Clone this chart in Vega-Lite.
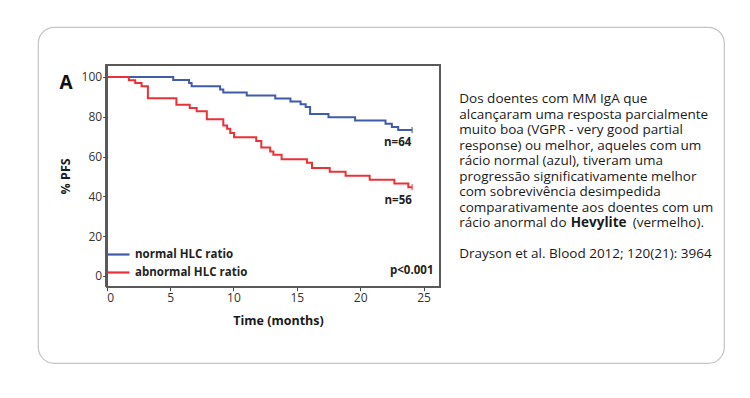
{
  "$schema": "https://vega.github.io/schema/vega-lite/v6.json",
  "width": 686,
  "height": 336,
  "autosize": "none",
  "padding": {"left": 38, "top": 27, "right": 26, "bottom": 35},
  "background": "white",
  "config": {
    "view": {"stroke": "#c4c4c4", "strokeWidth": 1.2, "cornerRadius": 16},
    "font": "Open Sans",
    "axis": {"grid": false, "domain": false, "tickColor": "#444", "tickSize": 4, "labelColor": "#333", "labelFontSize": 12, "titleColor": "#1a1a1a", "titleFontSize": 12.5, "titleFontWeight": "bold"}
  },
  "resolve": {"scale": {"y": "independent"}, "axis": {"y": "independent"}},
  "layer": [
    {
      "data": {"values": [
        {"group": "normal HLC ratio", "t": 0, "v": 100},
        {"group": "normal HLC ratio", "t": 5.25, "v": 98.5},
        {"group": "normal HLC ratio", "t": 6.5, "v": 96.9},
        {"group": "normal HLC ratio", "t": 6.7, "v": 95.3},
        {"group": "normal HLC ratio", "t": 8.95, "v": 93.7},
        {"group": "normal HLC ratio", "t": 9.2, "v": 92.2},
        {"group": "normal HLC ratio", "t": 11.05, "v": 90.7},
        {"group": "normal HLC ratio", "t": 13.3, "v": 89.2},
        {"group": "normal HLC ratio", "t": 14.5, "v": 87.7},
        {"group": "normal HLC ratio", "t": 15.3, "v": 86.3},
        {"group": "normal HLC ratio", "t": 15.7, "v": 84.9},
        {"group": "normal HLC ratio", "t": 16.05, "v": 81.4},
        {"group": "normal HLC ratio", "t": 17.5, "v": 79.8},
        {"group": "normal HLC ratio", "t": 19.6, "v": 78.1},
        {"group": "normal HLC ratio", "t": 22.0, "v": 76.5},
        {"group": "normal HLC ratio", "t": 22.5, "v": 74.9},
        {"group": "normal HLC ratio", "t": 23.0, "v": 73.4},
        {"group": "normal HLC ratio", "t": 24.1, "v": 73.4},
        {"group": "abnormal HLC ratio", "t": 0, "v": 100},
        {"group": "abnormal HLC ratio", "t": 1.75, "v": 98.4},
        {"group": "abnormal HLC ratio", "t": 2.25, "v": 96.9},
        {"group": "abnormal HLC ratio", "t": 2.75, "v": 95.3},
        {"group": "abnormal HLC ratio", "t": 3.25, "v": 89.3},
        {"group": "abnormal HLC ratio", "t": 5.5, "v": 86.0},
        {"group": "abnormal HLC ratio", "t": 6.55, "v": 84.4},
        {"group": "abnormal HLC ratio", "t": 7.1, "v": 82.7},
        {"group": "abnormal HLC ratio", "t": 7.9, "v": 78.7},
        {"group": "abnormal HLC ratio", "t": 9.2, "v": 75.6},
        {"group": "abnormal HLC ratio", "t": 9.5, "v": 74.0},
        {"group": "abnormal HLC ratio", "t": 9.75, "v": 71.8},
        {"group": "abnormal HLC ratio", "t": 10.05, "v": 69.7},
        {"group": "abnormal HLC ratio", "t": 11.8, "v": 67.8},
        {"group": "abnormal HLC ratio", "t": 12.2, "v": 64.5},
        {"group": "abnormal HLC ratio", "t": 12.9, "v": 62.5},
        {"group": "abnormal HLC ratio", "t": 13.15, "v": 60.9},
        {"group": "abnormal HLC ratio", "t": 13.8, "v": 58.7},
        {"group": "abnormal HLC ratio", "t": 15.8, "v": 56.9},
        {"group": "abnormal HLC ratio", "t": 16.2, "v": 54.3},
        {"group": "abnormal HLC ratio", "t": 17.6, "v": 52.4},
        {"group": "abnormal HLC ratio", "t": 18.85, "v": 50.3},
        {"group": "abnormal HLC ratio", "t": 20.75, "v": 48.3},
        {"group": "abnormal HLC ratio", "t": 22.7, "v": 46.4},
        {"group": "abnormal HLC ratio", "t": 23.8, "v": 44.6},
        {"group": "abnormal HLC ratio", "t": 24.1, "v": 44.6}
      ]},
      "layer": [
        {
          "transform": [{"filter": "datum.group === 'normal HLC ratio'"}],
          "mark": {"type": "line", "interpolate": "step-after", "strokeWidth": 2},
          "encoding": {
            "x": {"field": "t", "type": "quantitative", "scale": {"domain": [0, 26.3], "range": [68.7, 402], "nice": false, "zero": false},
              "axis": {"title": "Time (months)", "values": [0, 5, 10, 15, 20, 25], "offset": -76.3, "labelPadding": 2, "titlePadding": 11, "titleX": 240}},
            "y": {"field": "v", "type": "quantitative", "scale": {"domain": [-5.4, 106], "range": [259.7, 38], "nice": false, "zero": false},
              "axis": {"title": "% PFS", "values": [0, 20, 40, 60, 80, 100], "offset": -68.7, "labelPadding": 1, "titlePadding": 8.5}},
            "color": {"field": "group", "type": "nominal",
              "scale": {"domain": ["normal HLC ratio", "abnormal HLC ratio"], "range": ["#3F5BAA", "#EC3038"]},
              "legend": {"title": null, "orient": "none", "legendX": 68, "legendY": 215, "symbolType": "stroke", "symbolSize": 484, "symbolStrokeWidth": 2.2, "labelFont": "Open Sans", "labelFontSize": 11.5, "labelFontWeight": "bold", "labelColor": "#222", "labelOffset": 4, "rowPadding": -7, "padding": 0}}
          }
        },
        {
          "transform": [{"filter": "datum.group === 'abnormal HLC ratio'"}],
          "mark": {"type": "line", "interpolate": "step-after", "strokeWidth": 2},
          "encoding": {
            "x": {"field": "t", "type": "quantitative"},
            "y": {"field": "v", "type": "quantitative"},
            "color": {"field": "group", "type": "nominal"}
          }
        },
        {
          "transform": [{"filter": "datum.t > 24"}],
          "mark": {"type": "tick", "orient": "vertical", "size": 6, "thickness": 1.5},
          "encoding": {
            "x": {"field": "t", "type": "quantitative"},
            "y": {"field": "v", "type": "quantitative"},
            "color": {"field": "group", "type": "nominal", "legend": null}
          }
        },
        {
          "mark": {"type": "rect", "fillOpacity": 0, "stroke": "#5a5a5a", "strokeWidth": 1.5},
          "encoding": {
            "x": {"datum": 0, "type": "quantitative"},
            "x2": {"datum": 26.3},
            "y": {"datum": -5.4, "type": "quantitative"},
            "y2": {"datum": 106}
          }
        },
        {
          "data": {"values": [
            {"label": "n=64", "t": 22.96, "v": 66.8},
            {"label": "n=56", "t": 23.0, "v": 37.8},
            {"label": "p<0.001", "t": 24.07, "v": 2.3}
          ]},
          "mark": {"type": "text", "font": "Open Sans", "fontSize": 11.5, "fontWeight": "bold", "color": "#222", "baseline": "middle"},
          "encoding": {
            "x": {"field": "t", "type": "quantitative"},
            "y": {"field": "v", "type": "quantitative"},
            "text": {"field": "label"}
          }
        },
        {
          "data": {"values": [{"label": "A", "t": -3.2, "v": 96.8}]},
          "mark": {"type": "text", "font": "Open Sans", "fontSize": 19, "fontWeight": "bold", "color": "#111", "baseline": "middle"},
          "encoding": {
            "x": {"field": "t", "type": "quantitative"},
            "y": {"field": "v", "type": "quantitative"},
            "text": {"field": "label"}
          }
        }
      ]
    },
    {
      "layer": [
        {
          "data": {"values": [
            {"line": 0, "text": "Dos doentes com MM IgA que"},
            {"line": 1, "text": "alcançaram uma resposta parcialmente"},
            {"line": 2, "text": "muito boa (VGPR - very good partial"},
            {"line": 3, "text": "response) ou melhor, aqueles com um"},
            {"line": 4, "text": "rácio normal (azul), tiveram uma"},
            {"line": 5, "text": "progressão significativamente melhor"},
            {"line": 6, "text": "com sobrevivência desimpedida"},
            {"line": 7, "text": "comparativamente aos doentes com um"},
            {"line": 8, "text": "rácio anormal do"},
            {"line": 10, "text": "Drayson et al. Blood 2012; 120(21): 3964"}
          ]},
          "mark": {"type": "text", "font": "Open Sans", "fontSize": 13.5, "color": "#1a1a1a", "align": "left", "baseline": "middle"},
          "encoding": {
            "x": {"datum": 27.82, "type": "quantitative"},
            "y": {"field": "line", "type": "quantitative", "scale": {"domain": [0, 10], "range": [72, 227]}, "axis": null},
            "text": {"field": "text"}
          }
        },
        {
          "data": {"values": [{"line": 8, "text": "Hevylite"}]},
          "mark": {"type": "text", "font": "Open Sans", "fontSize": 13.5, "fontWeight": "bold", "color": "#1a1a1a", "align": "left", "baseline": "middle", "dx": 111.5},
          "encoding": {
            "x": {"datum": 27.82, "type": "quantitative"},
            "y": {"field": "line", "type": "quantitative", "axis": null},
            "text": {"field": "text"}
          }
        },
        {
          "data": {"values": [{"line": 8, "text": "(vermelho)."}]},
          "mark": {"type": "text", "font": "Open Sans", "fontSize": 13.5, "color": "#1a1a1a", "align": "left", "baseline": "middle", "dx": 173.5},
          "encoding": {
            "x": {"datum": 27.82, "type": "quantitative"},
            "y": {"field": "line", "type": "quantitative", "axis": null},
            "text": {"field": "text"}
          }
        }
      ]
    }
  ]
}
